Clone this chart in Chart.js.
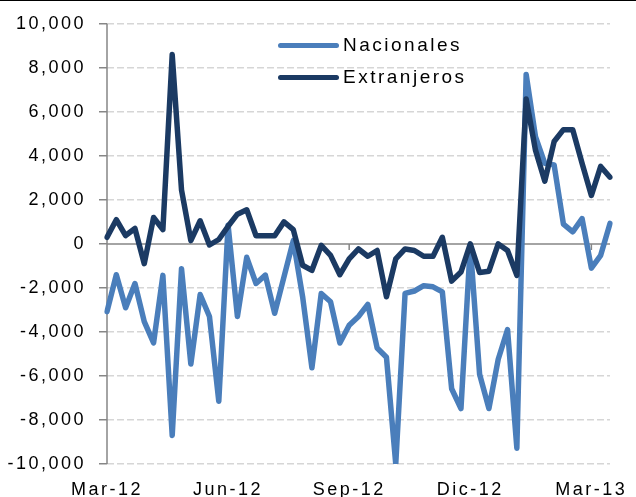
<!DOCTYPE html>
<html>
<head>
<meta charset="utf-8">
<script src="https://cdn.jsdelivr.net/npm/chart.js@4/dist/chart.umd.min.js"></script>
<style>
  body { margin: 0; background: #fff; }
  #wrap { position: relative; width: 636px; height: 497px; overflow: hidden; }
  #topline { position: absolute; left: 0; top: 0; width: 636px; height: 1px; background: #000; }
  .leg { position: absolute; font-family: "Liberation Sans", Arial, sans-serif; font-size: 19px; line-height: 22px; letter-spacing: 2.5px; color: #000; }
  .sw { position: absolute; height: 5px; border-radius: 3px; }
</style>
</head>
<body>
<div id="wrap">
  <canvas id="chart" width="636" height="497"></canvas>
  <div id="topline"></div>
  <div class="sw" style="left:278px; top:43px; width:61px; background:#4A7EBB;"></div>
  <div class="leg" style="left:343px; top:34px;">Nacionales</div>
  <div class="sw" style="left:278px; top:75px; width:61px; background:#1B3A63;"></div>
  <div class="leg" style="left:343px; top:66px;">Extranjeros</div>
</div>
<script>
// weekly observations, Mar-2012 .. Mar-2013
const weeks = [
  "02/03/12", "09/03/12", "16/03/12", "23/03/12", "30/03/12",
  "06/04/12", "13/04/12", "20/04/12", "27/04/12",
  "04/05/12", "11/05/12", "18/05/12", "25/05/12",
  "01/06/12", "08/06/12", "15/06/12", "22/06/12", "29/06/12",
  "06/07/12", "13/07/12", "20/07/12", "27/07/12",
  "03/08/12", "10/08/12", "17/08/12", "24/08/12", "31/08/12",
  "07/09/12", "14/09/12", "21/09/12", "28/09/12",
  "05/10/12", "12/10/12", "19/10/12", "26/10/12",
  "02/11/12", "09/11/12", "16/11/12", "23/11/12", "30/11/12",
  "07/12/12", "14/12/12", "21/12/12", "28/12/12",
  "04/01/13", "11/01/13", "18/01/13", "25/01/13",
  "01/02/13", "08/02/13", "15/02/13", "22/02/13",
  "01/03/13", "08/03/13", "15/03/13",
];

const nacionales = [
  -3080, -1400, -2900, -1800, -3530, -4500, -1430, -8700, -1130, -5460,
  -2300, -3300, -7150, 850, -3300, -610, -1800, -1420, -3150, -1500,
  150, -2400, -5630, -2250, -2630, -4500, -3700, -3300, -2750, -4730,
  -5150, -10000, -2250, -2140, -1900, -1950, -2180, -6580, -7480, -70,
  -5920, -7480, -5240, -3890, -9280, 7700, 4870, 3660, 3590, 900,
  550, 1150, -1100, -520, 930,
];

const extranjeros = [
  300, 1100, 380, 700, -900, 1200, 650, 8600, 2450, 150,
  1050, -50, 200, 800, 1350, 1550, 370, 370, 370, 1000,
  650, -970, -1200, -70, -520, -1400, -680, -230, -560, -300,
  -2400, -680, -230, -300, -560, -560, 300, -1690, -1280, 0,
  -1300, -1240, 0, -300, -1430, 6580, 4260, 2850, 4650, 5190,
  5190, 3660, 2200, 3520, 3030,
];

// where the quarterly labels sit (index into weeks)
const tickIndex = [0, 13, 26, 39, 52];
const tickLabels = ["Mar-12", "Jun-12", "Sep-12", "Dic-12", "Mar-13"];

const FONT = "'Liberation Sans', Arial, sans-serif";
const AXIS = "#868686";

const spacing = {
  id: "spacing",
  beforeLayout(chart) { chart.ctx.letterSpacing = "2.5px"; },
  beforeDraw(chart) { chart.ctx.letterSpacing = "2.5px"; },
};

// vertical axis line, horizontal axis crossing at 0 and its quarter ticks
const axisLines = {
  id: "axisLines",
  beforeDatasetsDraw(chart) {
    const { ctx, chartArea: a, scales } = chart;
    const y0 = scales.y.getPixelForValue(0);
    ctx.save();
    ctx.strokeStyle = AXIS;
    ctx.lineWidth = 1.5;
    ctx.setLineDash([]);
    ctx.beginPath();
    ctx.moveTo(a.left, a.top);
    ctx.lineTo(a.left, a.bottom);
    ctx.moveTo(a.left, y0);
    ctx.lineTo(a.right, y0);
    tickIndex.forEach((i) => {
      const px = scales.x.getPixelForValue(i);
      ctx.moveTo(px, y0);
      ctx.lineTo(px, y0 + 6);
    });
    ctx.stroke();
    ctx.restore();
  },
};

function quarterLabel(i) {
  const k = tickIndex.indexOf(i);
  return k >= 0 ? tickLabels[k] : "";
}

new Chart(document.getElementById("chart"), {
  type: "line",
  data: {
    labels: weeks,
    datasets: [
      {
        label: "Nacionales",
        data: nacionales,
        borderColor: "#4A7EBB",
        borderWidth: 5.5,
        pointRadius: 0,
        tension: 0,
        borderJoinStyle: "round",
        borderCapStyle: "round",
        order: 1,
      },
      {
        label: "Extranjeros",
        data: extranjeros,
        borderColor: "#1B3A63",
        borderWidth: 5.5,
        pointRadius: 0,
        tension: 0,
        borderJoinStyle: "round",
        borderCapStyle: "round",
        order: 0,
      },
    ],
  },
  options: {
    responsive: false,
    animation: false,
    layout: { padding: { top: 19, right: 26, bottom: 0, left: 0 } },
    plugins: { legend: { display: false }, tooltip: { enabled: false } },
    scales: {
      x: {
        type: "category",
        position: "bottom",
        grid: { display: false },
        border: { display: false },
        ticks: {
          autoSkip: false,
          maxRotation: 0,
          padding: 7,
          color: "#000",
          font: { family: FONT, size: 18 },
          callback: (v, i) => quarterLabel(i),
        },
        afterFit: (s) => { s.height = 33; },
      },
      y: {
        min: -10000,
        max: 10000,
        grid: {
          color: (c) => (c.tick && c.tick.value === 0 ? "rgba(0,0,0,0)" : "#d6d6d6"),
          lineWidth: 1.5,
          tickLength: 8,
          tickColor: AXIS,
          tickWidth: 1.5,
          tickBorderDash: [],
        },
        border: { display: false, dash: [7, 3] },
        ticks: {
          stepSize: 2000,
          padding: 13,
          color: "#000",
          font: { family: FONT, size: 18 },
          callback: (v) => v.toLocaleString("en-US"),
        },
        afterFit: (s) => { s.width = 107; },
      },
    },
  },
  plugins: [spacing, axisLines],
});
</script>
</body>
</html>
